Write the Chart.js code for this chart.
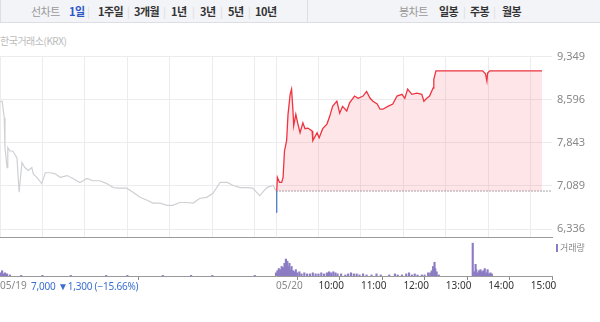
<!DOCTYPE html>
<html>
<head>
<meta charset="UTF-8">
<title>주가 차트</title>
<script src="https://cdn.jsdelivr.net/npm/chart.js"></script>
<style>
  body { margin: 0; width: 600px; height: 322px; overflow: hidden; position: relative;
         font-family: 'Noto Sans CJK KR', 'Noto Sans', sans-serif; background: #fff; }
  .bar { position: absolute; top: 0; height: 22px; background: #f3f4f7;
         border-bottom: 1px solid #dcdee3; }
  .bar span { position: absolute; top: 4px; font-size: 11px; line-height: 14px;
              font-weight: bold; color: #333; letter-spacing: -0.5px; }
  .bar span.lbl { color: #999; font-weight: normal; }
  .bar span.on { color: #2b58c4; }
  .bar span.sep { color: #ddd; font-weight: normal; }
  .src { position: absolute; left: 0; top: 33px; font-size: 10px; color: #bbb; letter-spacing: -0.5px; }
  .wrap { position: absolute; left: 0; width: 600px; }
  .info { position: absolute; left: 31px; top: 279px; font-size: 10px; color: #3a6fd0;
          font-family: 'Noto Sans', sans-serif; letter-spacing: -0.2px; }
  .vleg { position: absolute; left: 556px; top: 241px; font-size: 9px; color: #888; }
  .vleg i { display: inline-block; width: 2px; height: 8px; background: #8c7cc4; margin-right: 2px; vertical-align: -1px; }
</style>
</head>
<body>
  <div class="bar" style="left:0;width:306px;border-left:1px solid #dcdee3;">
    <span class="lbl" style="left:30px">선차트</span>
    <span class="on" style="left:68px">1일</span>
    <span class="sep" style="left:86px">|</span>
    <span style="left:97px">1주일</span>
    <span class="sep" style="left:126px">|</span>
    <span style="left:133px">3개월</span>
    <span class="sep" style="left:162px">|</span>
    <span style="left:170px">1년</span>
    <span class="sep" style="left:191px">|</span>
    <span style="left:199px">3년</span>
    <span class="sep" style="left:219px">|</span>
    <span style="left:227px">5년</span>
    <span class="sep" style="left:247px">|</span>
    <span style="left:254px">10년</span>
  </div>
  <div class="bar" style="left:307px;width:293px;border-left:1px solid #dcdee3;">
    <span class="lbl" style="left:91px">봉차트</span>
    <span style="left:131px">일봉</span>
    <span class="sep" style="left:155px">|</span>
    <span style="left:162px">주봉</span>
    <span class="sep" style="left:185px">|</span>
    <span style="left:194px">월봉</span>
  </div>
  <div class="src">한국거래소(KRX)</div>

  <div class="wrap" style="top:45px;height:204px;"><canvas id="priceChart"></canvas></div>
  <div class="wrap" style="top:238px;height:54px;"><canvas id="volumeChart"></canvas></div>
  <div class="vleg"><i></i>거래량</div>
  <div class="info">7,000 ▼1,300 (−15.66%)</div>

<script>
const prevClose = 7000;
const priceTicks = [6336, 7089, 7843, 8596, 9349];
const dayLabels = ['05/19', '05/20'];
const hourLabels = ['10:00', '11:00', '12:00', '13:00', '14:00', '15:00'];

// 05/19 (전일) 가격
const day1Times = ['09:00','09:03','09:06','09:07','09:10','09:11','09:14','09:18','09:24','09:27',
  '09:31','09:35','09:40','09:45','09:47','09:52','09:59','10:04','10:11','10:18',
  '10:25','10:35','10:43','10:53','11:03','11:11','11:21','11:31','11:40','11:49',
  '11:59','12:08','12:18','12:28','12:36','12:46','12:56','13:04','13:14','13:24',
  '13:33','13:42','13:52','14:01','14:11','14:21','14:29','14:39','14:49','14:57',
  '15:07','15:17','15:26','15:30'];
const day1Prices = [8560, 8570, 8280, 7760, 7410, 7760, 7700, 7700, 7580, 6980,
  7500, 7410, 7360, 7410, 7300, 7240, 7130, 7320, 7320, 7300,
  7240, 7270, 7220, 7150, 7220, 7180, 7180, 7130, 7060, 7050,
  7050, 6980, 6890, 6840, 6790, 6790, 6750, 6750, 6800, 6800,
  6790, 6870, 6890, 6960, 7150, 7150, 7100, 7060, 7060, 7050,
  6920, 7060, 7100, 7000];

// 05/20 시초 (전일 종가 아래)
const openTimes = ['09:00', '09:01'];
const openPrices = [6630, 7000];

// 05/20 가격
const day2Times = ['09:01','09:02','09:05','09:08','09:10','09:12','09:15','09:17','09:20','09:22',
  '09:24','09:25','09:28','09:31','09:34','09:38','09:41','09:45','09:51','09:52',
  '09:58','10:01','10:06','10:12','10:16','10:20','10:26','10:30','10:34','10:40',
  '10:44','10:51','10:56','11:03','11:08','11:13','11:17','11:23','11:27','11:31',
  '11:38','11:45','11:51','11:58','12:02','12:06','12:12','12:19','12:26','12:29',
  '12:33','12:37','12:42','12:43','12:46','13:52','13:56','13:58','13:59','14:02','15:16'];
const day2Prices = [7000, 7240, 7150, 7150, 7240, 7700, 7880, 8340, 8690, 8780,
  8400, 8140, 8340, 8170, 8020, 8190, 8090, 8100, 8050, 7880,
  8020, 7930, 8090, 8170, 8310, 8480, 8570, 8360, 8480, 8400,
  8540, 8660, 8620, 8660, 8740, 8620, 8570, 8520, 8430, 8430,
  8480, 8520, 8660, 8690, 8620, 8780, 8690, 8710, 8690, 8570,
  8620, 8660, 8800, 8950, 9100, 9100, 9050, 8920, 9060, 9100, 9100];

// 거래량 (천주)
const vol1Times = ['09:01','09:03','09:05','09:07','09:10','09:14','09:30','10:00','10:40','11:30','12:00','12:50','13:30','14:00','15:00'];
const vol1Values = [3, 5, 2, 3, 2, 1, 0.6, 0.6, 0.6, 0.6, 0.6, 0.6, 0.6, 0.6, 0.6];
const vol2Times = ['09:00','09:02','09:04','09:06','09:08','09:10','09:12','09:14','09:15','09:16',
  '09:18','09:19','09:20','09:22','09:24','09:26','09:28','09:30','09:33','09:36',
  '09:40','09:44','09:48','09:52','09:56','10:00','10:04','10:08','10:12','10:15',
  '10:18','10:21','10:24','10:27','10:32','10:38','10:42','10:46','10:50','10:54',
  '10:58','11:03','11:08','11:15','11:22','11:28','11:40','11:48','11:52','11:58',
  '12:04','12:08','12:12','12:16','12:20','12:26','12:30','12:35','12:38','12:40',
  '12:42','12:44','12:45','12:47','12:50','13:38','13:40','13:42','13:43','13:45',
  '13:47','13:49','13:51','13:53','13:55','13:57','13:59','14:01','14:03','14:05'];
const vol2Values = [3, 5, 7, 6, 9, 8, 12, 16, 10, 14,
  9, 12, 6, 9, 5, 4, 6, 3, 4, 2,
  3, 2, 2, 3, 2, 2, 3, 2, 3, 4,
  3, 4, 3, 2, 2, 1, 2, 3, 2, 2,
  1, 2, 1, 1, 2, 1, 1, 2, 1, 1,
  2, 3, 1, 2, 1, 1, 1, 3, 3, 5,
  9, 13, 7, 4, 1, 31, 4, 11, 6, 3,
  5, 6, 4, 5, 7, 3, 6, 2, 3, 2];

// 시간 -> 분 (05/19 09:00 = 0, 하루 390분)
function toMin(day, t) {
  const [h, m] = t.split(':').map(Number);
  return day * 390 + (h - 9) * 60 + m;
}
function pts(day, times, values) {
  return times.map((t, i) => ({ x: toMin(day, t), y: values[i] }));
}

const X_MAX = 780;
const gridTicks = [0, 60, 120, 180, 240, 300, 360, 390, 450, 510, 570, 630, 690, 750];
const labelTicks = [0, 390, 450, 510, 570, 630, 690, 750];
const labelText = [dayLabels[0], dayLabels[1]].concat(hourLabels);

Chart.defaults.font.family = "'Noto Sans', 'Noto Sans CJK KR', sans-serif";
Chart.defaults.animation = false;

new Chart('priceChart', {
  type: 'line',
  data: {
    datasets: [
      { data: pts(0, day1Times, day1Prices), borderColor: '#cfd0d4', borderWidth: 1.2 },
      { data: pts(1, openTimes, openPrices), borderColor: '#4b7bcb', borderWidth: 1.3 },
      { data: pts(1, day2Times, day2Prices), borderColor: '#ee3440', borderWidth: 1.3,
        fill: { target: { value: prevClose }, above: 'rgba(250, 90, 100, 0.15)', below: 'rgba(0,0,0,0)' } },
      { data: [{ x: 390, y: prevClose }, { x: X_MAX, y: prevClose }], borderColor: '#a8a8a8',
        borderWidth: 1, borderDash: [2, 1] }
    ]
  },
  options: {
    maintainAspectRatio: false,
    layout: { padding: { top: 8, left: 0, right: 0, bottom: 3 } },
    elements: { point: { radius: 0 }, line: { tension: 0 } },
    plugins: { legend: { display: false }, tooltip: { enabled: false } },
    scales: {
      x: {
        type: 'linear', min: 0, max: X_MAX,
        afterBuildTicks: s => { s.ticks = gridTicks.map(v => ({ value: v })); },
        ticks: { display: false },
        grid: { color: '#ececef', drawTicks: false },
        border: { color: '#9a9a9a' }
      },
      y: {
        position: 'right', min: 6190, max: 9349,
        afterBuildTicks: s => { s.ticks = priceTicks.map(v => ({ value: v })); },
        afterFit: s => { s.width = 48; },
        ticks: { color: '#888', font: { size: 11 }, padding: 5,
                 callback: v => v.toLocaleString('en-US') },
        grid: { color: '#ececef', drawTicks: false },
        border: { display: false }
      }
    }
  }
});

new Chart('volumeChart', {
  type: 'bar',
  data: {
    datasets: [
      { data: pts(0, vol1Times, vol1Values).concat(pts(1, vol2Times, vol2Values)),
        backgroundColor: '#8c7cc4', barThickness: 1.5 }
    ]
  },
  options: {
    maintainAspectRatio: false,
    layout: { padding: { top: 2, left: 0, right: 48, bottom: 0 } },
    plugins: { legend: { display: false }, tooltip: { enabled: false } },
    scales: {
      x: {
        type: 'linear', min: 0, max: X_MAX, offset: false,
        afterBuildTicks: s => { s.ticks = labelTicks.map(v => ({ value: v })); },
        ticks: {
          align: 'start', padding: 0, font: { size: 10 }, maxRotation: 0, autoSkip: false,
          color: ctx => (ctx.index < 2 ? '#888' : '#333'),
          callback: (v, i) => labelText[i]
        },
        grid: { drawOnChartArea: false, drawTicks: true, tickLength: 4, color: '#888' },
        border: { color: '#9a9a9a' }
      },
      y: { display: false, min: 0, max: 34 }
    }
  }
});
</script>
</body>
</html>
